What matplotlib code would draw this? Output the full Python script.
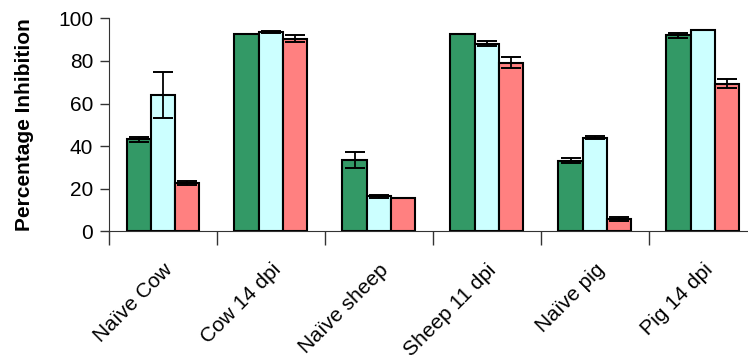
import numpy as np
import matplotlib
matplotlib.use("Agg")
import matplotlib.pyplot as plt

plt.rcParams['font.family'] = ['Liberation Sans', 'DejaVu Sans']

# data
categories = ["Naïve Cow", "Cow 14 dpi", "Naïve sheep", "Sheep 11 dpi", "Naïve pig", "Pig 14 dpi"]
green = [43.1, 92.8, 33.4, 92.6, 33.0, 92.0]
green_err = [1.2, 0.0, 3.9, 0.0, 1.2, 1.0]
cyan = [64.1, 93.6, 16.3, 88.2, 44.0, 94.8]
cyan_err = [10.7, 0.6, 0.9, 1.2, 0.9, 0.0]
red = [22.6, 90.5, 15.7, 79.2, 5.5, 69.2]
red_err = [1.0, 1.5, 0.0, 2.7, 0.9, 2.1]

colors = ['#339966', '#CCFFFF', '#FF8080']

fig = plt.figure(figsize=(7.48, 3.55), dpi=100)
ax = fig.add_axes([0.1457, 0.349, 0.866, 0.599])

x = np.arange(len(categories)) + 0.5
w = 0.225
for off, vals, errs, c in [(-w, green, green_err, colors[0]),
                           (0, cyan, cyan_err, colors[1]),
                           (w, red, red_err, colors[2])]:
    ax.bar(x + off, vals, w, color=c, edgecolor='black', linewidth=1.5, zorder=2)
    ax.errorbar(x + off, vals, yerr=errs, fmt='none', ecolor='black',
                elinewidth=1.3, capsize=7.5, capthick=1.4, zorder=3)

ax.set_xlim(0, 6)
ax.set_ylim(0, 100)
ax.set_yticks([0, 20, 40, 60, 80, 100])
ax.tick_params(axis='y', labelsize=15, length=6.5, width=1, pad=5, color='#333333')

# boundary ticks between groups, labels at group centres
ax.set_xticks(np.arange(0, 7), minor=True)
ax.set_xticks(x)
ax.set_xticklabels(categories, rotation=45, ha='right', va='top',
                   rotation_mode='anchor', fontsize=15)
ax.tick_params(axis='x', which='major', length=0, pad=21)
ax.tick_params(axis='x', which='minor', length=10, width=1, color='#333333')

ax.set_ylabel('Percentage Inhibition', fontsize=15, fontweight='bold', labelpad=17)

ax.spines['right'].set_visible(False)
ax.spines['top'].set_visible(False)
ax.spines['left'].set_color('#333333')
ax.spines['bottom'].set_color('#333333')

fig.savefig('out.png', dpi=100)
